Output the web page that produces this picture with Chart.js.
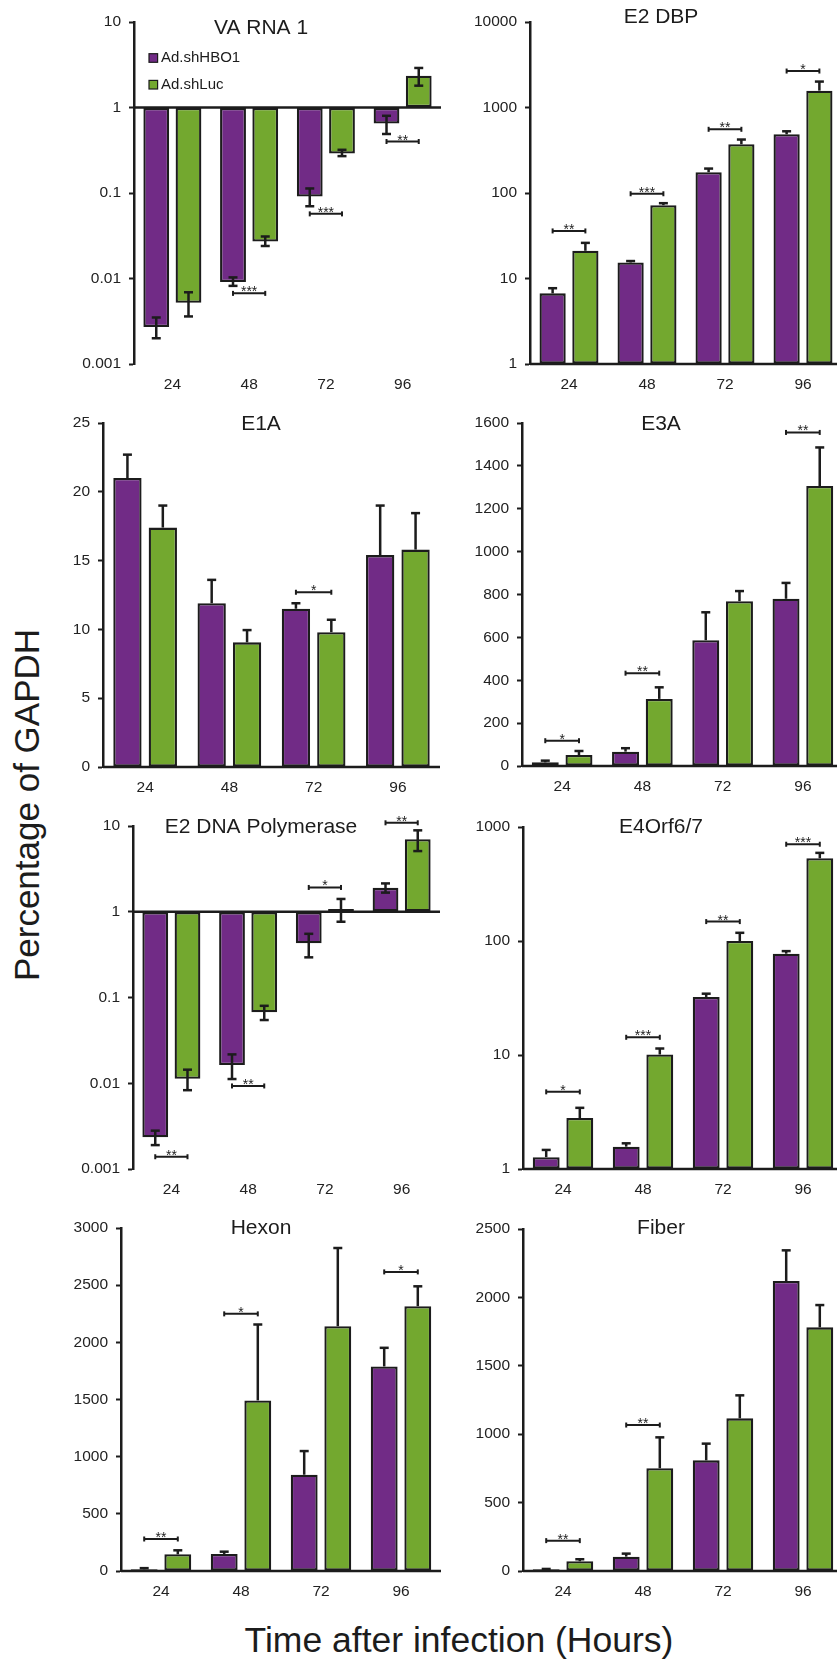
<!DOCTYPE html>
<html>
<head>
<meta charset="utf-8">
<script src="https://cdn.jsdelivr.net/npm/chart.js@4.4.1/dist/chart.umd.min.js"></script>
<style>
  html, body { margin: 0; padding: 0; overflow: hidden; background: #fff; }
  body { width: 837px; height: 1661px; position: relative; font-family: 'Liberation Sans', Arial, sans-serif; color: #1c1c1c; }
  canvas { position: absolute; }
  #ylab { position: absolute; left: 27px; top: 805px; font-size: 35px; white-space: nowrap; transform: translate(-50%, -50%) rotate(-90deg); }
  #xlab { position: absolute; left: 459px; top: 1640px; font-size: 35.5px; white-space: nowrap; transform: translate(-50%, -50%); }
</style>
</head>
<body>
<div id="ylab">Percentage of GAPDH</div>
<div id="xlab">Time after infection (Hours)</div>
<script>
const hours = ['24', '48', '72', '96'];
const seriesNames = ['Ad.shHBO1', 'Ad.shLuc'];

// VA RNA 1 (log, bars hang from 1, two-sided errors)
const vaTicks = [0.001, 0.01, 0.1, 1, 10];
const vaHbo = [0.0027, 0.0091, 0.091, 0.65];
const vaLuc = [0.0052, 0.027, 0.29, 2.35];
const vaHboHi = [0.0035, 0.0103, 0.113, 0.80];
const vaHboLo = [0.0020, 0.0082, 0.070, 0.49];
const vaLucHi = [0.0069, 0.031, 0.32, 2.9];
const vaLucLo = [0.0036, 0.024, 0.27, 1.8];
const vaSig = [null, 0.0067, 0.057, 0.40];
const vaStars = ['', '***', '***', '**'];

// E2 DBP
const dbpTicks = [1, 10, 100, 1000, 10000];
const dbpHbo = [6.7, 15.4, 175, 486];
const dbpLuc = [21.1, 72, 372, 1575];
const dbpHboHi = [7.7, 16.0, 193, 527];
const dbpLucHi = [26.1, 76, 422, 2010];
const dbpSig = [36, 98, 556, 2670];
const dbpStars = ['**', '***', '**', '*'];

// E1A
const e1aHbo = [21.0, 11.9, 11.5, 15.4];
const e1aLuc = [17.4, 9.06, 9.8, 15.8];
const e1aHboHi = [22.7, 13.6, 11.9, 19.0];
const e1aLucHi = [19.0, 9.95, 10.7, 18.45];
const e1aSig = [null, null, 12.7, null];
const e1aStars = ['', '', '*', ''];

// E3A
const e3aHbo = [17, 67, 587, 780];
const e3aLuc = [51, 313, 769, 1306];
const e3aHboHi = [25, 83, 717, 854];
const e3aLucHi = [70, 367, 816, 1486];
const e3aSig = [118, 433, null, 1556];
const e3aStars = ['*', '**', '', '**'];

// E2 DNA Polymerase (log, two-sided errors)
const polTicks = [0.001, 0.01, 0.1, 1, 10];
const polHbo = [0.00234, 0.0163, 0.428, 1.9];
const polLuc = [0.0113, 0.0671, 1.08, 7.0];
const polHboHi = [0.0028, 0.0217, 0.553, 2.14];
const polHboLo = [0.0019, 0.0112, 0.294, 1.67];
const polLucHi = [0.0144, 0.080, 1.41, 8.9];
const polLucLo = [0.0083, 0.0546, 0.765, 5.1];
const polSig = [0.00139, 0.0093, 1.92, 10.9];
const polStars = ['**', '**', '*', '**'];

// E4Orf6/7
const e4Ticks = [1, 10, 100, 1000];
const e4Hbo = [1.27, 1.57, 32.3, 77.4];
const e4Luc = [2.8, 10.1, 100, 532];
const e4HboHi = [1.47, 1.68, 34.5, 81.5];
const e4LucHi = [3.44, 11.4, 118, 593];
const e4Sig = [4.75, 14.3, 148, 706];
const e4Stars = ['*', '***', '**', '***'];

// Hexon
const hexHbo = [15, 149, 842, 1789];
const hexLuc = [146, 1492, 2141, 2316];
const hexHboHi = [25, 169, 1049, 1952];
const hexLucHi = [181, 2156, 2825, 2490];
const hexSig = [280, 2249, null, 2616];
const hexStars = ['**', '*', '', '*'];

// Fiber
const fibHbo = [12, 105, 809, 2120];
const fibLuc = [71, 751, 1116, 1781];
const fibHboHi = [15, 127, 931, 2344];
const fibLucHi = [86, 977, 1284, 1944];
const fibSig = [222, 1067, null, null];
const fibStars = ['**', '**', '', ''];

const panels = [
  { id: 'va', title: 'VA RNA 1', log: vaTicks, hbo: vaHbo, luc: vaLuc, hboHi: vaHboHi, hboLo: vaHboLo, lucHi: vaLucHi, lucLo: vaLucLo, sig: vaSig, stars: vaStars, legend: true },
  { id: 'dbp', title: 'E2 DBP', log: dbpTicks, hbo: dbpHbo, luc: dbpLuc, hboHi: dbpHboHi, lucHi: dbpLucHi, sig: dbpSig, stars: dbpStars },
  { id: 'e1a', title: 'E1A', max: 25, step: 5, hbo: e1aHbo, luc: e1aLuc, hboHi: e1aHboHi, lucHi: e1aLucHi, sig: e1aSig, stars: e1aStars },
  { id: 'e3a', title: 'E3A', max: 1600, step: 200, hbo: e3aHbo, luc: e3aLuc, hboHi: e3aHboHi, lucHi: e3aLucHi, sig: e3aSig, stars: e3aStars },
  { id: 'pol', title: 'E2 DNA Polymerase', log: polTicks, hbo: polHbo, luc: polLuc, hboHi: polHboHi, hboLo: polHboLo, lucHi: polLucHi, lucLo: polLucLo, sig: polSig, stars: polStars },
  { id: 'e4', title: 'E4Orf6/7', log: e4Ticks, hbo: e4Hbo, luc: e4Luc, hboHi: e4HboHi, lucHi: e4LucHi, sig: e4Sig, stars: e4Stars },
  { id: 'hex', title: 'Hexon', max: 3000, step: 500, hbo: hexHbo, luc: hexLuc, hboHi: hexHboHi, lucHi: hexLucHi, sig: hexSig, stars: hexStars },
  { id: 'fib', title: 'Fiber', max: 2500, step: 500, hbo: fibHbo, luc: fibLuc, hboHi: fibHboHi, lucHi: fibLucHi, sig: fibSig, stars: fibStars }
];

// where each panel sits on the page (px)
const layout = {
  va:  { left: 0,   top: 0,    width: 450, axisX: 134, plotTop: 22,   plotBottom: 364,  plotRight: 441, titleX: 261, titleY: 28 },
  dbp: { left: 440, top: 0,    width: 410, axisX: 530, plotTop: 22,   plotBottom: 364,  plotRight: 842, titleX: 221, titleY: 17.5 },
  e1a: { left: 0,   top: 400,  width: 450, axisX: 103, plotTop: 423,  plotBottom: 767,  plotRight: 440, titleX: 261, titleY: 24.5 },
  e3a: { left: 440, top: 400,  width: 410, axisX: 522, plotTop: 423,  plotBottom: 766,  plotRight: 843, titleX: 221, titleY: 24.5 },
  pol: { left: 0,   top: 800,  width: 450, axisX: 133, plotTop: 826,  plotBottom: 1169, plotRight: 440, titleX: 261, titleY: 27 },
  e4:  { left: 440, top: 800,  width: 410, axisX: 523, plotTop: 827,  plotBottom: 1169, plotRight: 843, titleX: 221, titleY: 27.5 },
  hex: { left: 0,   top: 1200, width: 450, axisX: 121, plotTop: 1228, plotBottom: 1571, plotRight: 441, titleX: 261, titleY: 28 },
  fib: { left: 440, top: 1200, width: 410, axisX: 523, plotTop: 1229, plotBottom: 1571, plotRight: 843, titleX: 221, titleY: 28 }
};

const FONT = "'Liberation Sans', Arial, sans-serif";
const ink = '#1c1c1c';
const purple = '#712b86';
const green = '#73a82f';

const decor = {
  id: 'decor',
  afterDatasetsDraw(chart, args, o) {
    const { ctx, chartArea: a } = chart;
    const y = chart.scales.y;
    const seg = (x1, y1, x2, y2) => { ctx.beginPath(); ctx.moveTo(x1, y1); ctx.lineTo(x2, y2); ctx.stroke(); };
    ctx.save();
    ctx.strokeStyle = ink;
    ctx.fillStyle = ink;
    ctx.lineWidth = 2.5;
    // error bars
    chart.data.datasets.forEach((ds, i) => {
      chart.getDatasetMeta(i).data.forEach((bar, j) => {
        const top = y.getPixelForValue(ds.errHi[j]);
        const bot = y.getPixelForValue(ds.errLo ? ds.errLo[j] : ds.data[j]);
        seg(bar.x, top, bar.x, bot);
        seg(bar.x - 4.5, top, bar.x + 4.5, top);
        if (ds.errLo) seg(bar.x - 4.5, bot, bar.x + 4.5, bot);
      });
    });
    // horizontal axis at the bar base
    const by = y.getPixelForValue(o.base);
    seg(a.left, by, a.right, by);
    // significance brackets
    const m0 = chart.getDatasetMeta(0).data, m1 = chart.getDatasetMeta(1).data;
    ctx.lineWidth = 2;
    ctx.font = '14px ' + FONT;
    ctx.textAlign = 'center';
    ctx.textBaseline = 'alphabetic';
    o.sig.forEach((v, j) => {
      if (v == null) return;
      const x1 = m0[j].x, x2 = m1[j].x, yy = y.getPixelForValue(v);
      seg(x1, yy, x2, yy);
      seg(x1, yy - 2.5, x1, yy + 2.5);
      seg(x2, yy - 2.5, x2, yy + 2.5);
      ctx.fillText(o.stars[j], (x1 + x2) / 2, yy + 3);
    });
    ctx.restore();
  },
  afterDraw(chart, args, o) {
    const ctx = chart.ctx;
    ctx.save();
    ctx.fillStyle = ink;
    ctx.font = '21px ' + FONT;
    ctx.textAlign = 'center';
    ctx.textBaseline = 'middle';
    ctx.fillText(o.title, o.titleX, o.titleY);
    if (o.legend) {
      ctx.font = '15px ' + FONT;
      ctx.textAlign = 'left';
      ctx.lineWidth = 1.2;
      ctx.strokeStyle = ink;
      seriesNames.forEach((name, i) => {
        const cy = 58 + i * 26.7;
        ctx.fillStyle = chart.data.datasets[i].backgroundColor;
        ctx.fillRect(149, cy - 4.3, 8.6, 8.6);
        ctx.strokeRect(149, cy - 4.3, 8.6, 8.6);
        ctx.fillStyle = ink;
        ctx.fillText(name, 161, cy);
      });
    }
    ctx.restore();
  }
};

panels.forEach(p => {
  const L = layout[p.id];
  const canvas = document.createElement('canvas');
  const h = L.plotBottom - L.top + 36;
  canvas.width = L.width;
  canvas.height = h;
  canvas.style.left = L.left + 'px';
  canvas.style.top = L.top + 'px';
  canvas.style.width = L.width + 'px';
  canvas.style.height = h + 'px';
  document.body.appendChild(canvas);

  const bar = (label, data, color, hi, lo) => ({
    label, data, errHi: hi, errLo: lo || null,
    backgroundColor: color, borderColor: ink, borderWidth: 2.3, borderSkipped: false,
    base: p.log ? 1 : 0,
    categoryPercentage: 0.84, barPercentage: 0.8
  });

  const yScale = {
    border: { color: ink, width: 2.5 },
    grid: { drawOnChartArea: false, drawTicks: true, tickLength: 5, tickWidth: 2, color: ink },
    ticks: { font: { size: 15.5, family: FONT }, color: '#222', padding: 8, callback: v => String(v) },
    afterFit: s => { s.width = L.axisX - L.left; }
  };
  if (p.log) {
    Object.assign(yScale, {
      type: 'logarithmic', min: p.log[0], max: p.log[p.log.length - 1],
      afterBuildTicks: s => { s.ticks = p.log.map(v => ({ value: v })); }
    });
  } else {
    Object.assign(yScale, { type: 'linear', min: 0, max: p.max });
    yScale.ticks.stepSize = p.step;
  }

  new Chart(canvas, {
    type: 'bar',
    data: {
      labels: hours,
      datasets: [
        bar(seriesNames[0], p.hbo, purple, p.hboHi, p.hboLo),
        bar(seriesNames[1], p.luc, green, p.lucHi, p.lucLo)
      ]
    },
    options: {
      responsive: false,
      animation: false,
      devicePixelRatio: 1,
      events: [],
      layout: { padding: { top: L.plotTop - L.top, right: L.left + L.width - L.plotRight, bottom: 0, left: 0 } },
      scales: {
        x: {
          grid: { display: false, drawTicks: false },
          border: { display: false },
          ticks: { font: { size: 15.5, family: FONT }, color: '#222', padding: 11 },
          afterFit: s => { s.height = 36; }
        },
        y: yScale
      },
      plugins: {
        legend: { display: false },
        tooltip: { enabled: false },
        decor: {
          base: p.log ? 1 : 0, sig: p.sig, stars: p.stars,
          title: p.title, titleX: L.titleX, titleY: L.titleY, legend: !!p.legend
        }
      }
    },
    plugins: [decor]
  });
});
</script>
</body>
</html>
